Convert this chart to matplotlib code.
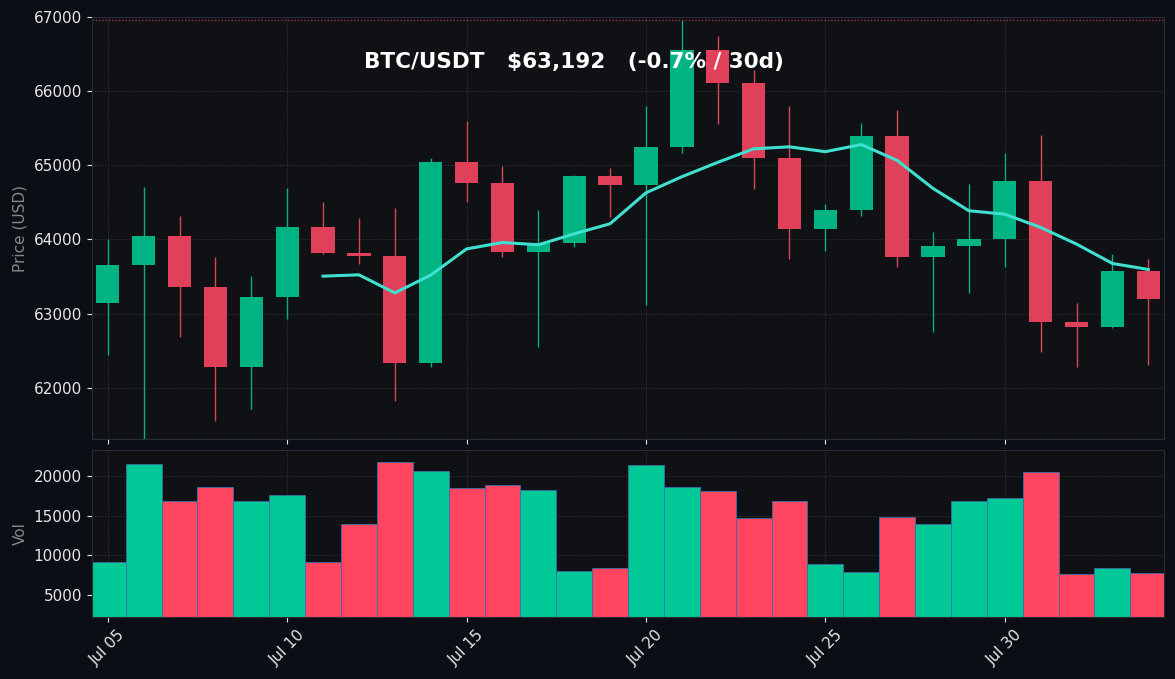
import numpy as np
import pandas as pd
import matplotlib
matplotlib.use("Agg")
import matplotlib.pyplot as plt
import matplotlib.dates as mdates

# ---------- Data ----------
dates = pd.date_range("2024-07-05", periods=30, freq="D")
opens = [63142, 63653, 64043, 63357, 62282, 63223, 64164, 63815, 63775, 62336,
         65038, 64755, 63828, 63949, 64850, 64729, 65253, 66556, 66113, 65105,
         64137, 64392, 65400, 63761, 63909, 64003, 64782, 62887, 62820, 63573]
closes = [63653, 64043, 63357, 62282, 63223, 64164, 63815, 63775, 62336, 65038,
          64755, 63828, 63949, 64850, 64729, 65253, 66556, 66113, 65105, 64137,
          64392, 65400, 63761, 63909, 64003, 64782, 62887, 62820, 63573, 63192]
highs = [64003, 64702, 64312, 63761, 63505, 64688, 64500, 64285, 64420, 65105,
         65602, 64997, 64392, 64870, 64970, 65804, 66960, 66745, 66288, 65804,
         64473, 65575, 65750, 64097, 64742, 65172, 65414, 63142, 63801, 63734]
lows = [62443, 61315, 62685, 61557, 61718, 62927, 63800, 63667, 61825, 62282,
        64500, 63761, 62551, 63895, 64298, 63116, 65159, 65562, 64675, 63734,
        63841, 64312, 63626, 62753, 63277, 63626, 62484, 62282, 62800, 62309]
volumes = [9160, 21520, 16850, 18620, 16850, 17610, 9160, 13950, 21770, 20640,
           18490, 18870, 18240, 8030, 8400, 21390, 18620, 18110, 14710, 16850,
           8910, 7900, 14840, 13950, 16850, 17230, 20510, 7650, 8400, 7770]

df = pd.DataFrame({"open": opens, "close": closes, "high": highs,
                   "low": lows, "vol": volumes}, index=dates)
df["ma7"] = df["close"].rolling(7).mean()

# ---------- Style ----------
BG = "#0b0e14"
AX_BG = "#101114"
GREEN = "#00b383"
RED = "#e0405a"
VGREEN = "#00c896"
VRED = "#ff4560"
TXT = "#e6e6e6"

fig, (ax, axv) = plt.subplots(2, 1, figsize=(11.75, 6.79), dpi=100, sharex=True,
                              gridspec_kw={"height_ratios": [2.52, 1], "hspace": 0.035})
fig.patch.set_facecolor(BG)
fig.subplots_adjust(left=0.078, right=0.991, top=0.975, bottom=0.091)

x = mdates.date2num(df.index.to_pydatetime())
up = df["close"] >= df["open"]

for a in (ax, axv):
    a.set_facecolor(AX_BG)
    a.set_axisbelow(True)
    a.grid(True, linestyle=":", linewidth=0.7, color="#3a3d45", alpha=0.9)
    a.tick_params(colors=TXT, labelsize=11)
    for s in a.spines.values():
        s.set_color("#2a2d35")

# candles
for xi, (_, r), u in zip(x, df.iterrows(), up):
    c = GREEN if u else RED
    ax.vlines(xi, r["low"], r["high"], color=c, linewidth=1)
    lo, hi = sorted([r["open"], r["close"]])
    ax.bar(xi, max(hi - lo, 25), bottom=lo, width=0.65, color=c, linewidth=0)

ax.plot(x, df["ma7"], color="#40e0d0", linewidth=2.2)
ax.axhline(df["high"].max(), color=RED, linestyle=":", linewidth=0.9, alpha=0.8)
ax.axhline(df["low"].min(), color=GREEN, linestyle=":", linewidth=0.9, alpha=0.8)
ax.set_ylim(df["low"].min() - 10, 67000)
ax.set_ylabel("Price (USD)", color="#888888", fontsize=11)

chg = (df["close"].iloc[-1] / df["close"].iloc[0] - 1) * 100
ax.text(0.45, 0.894, f"BTC/USDT   ${df['close'].iloc[-1]:,.0f}   ({chg:+.1f}% / 30d)",
        transform=ax.transAxes, ha="center", va="center", color="white",
        fontsize=15.5, fontweight="bold")

# volume
axv.bar(x, df["vol"], width=1.0, color=[VGREEN if u else VRED for u in up],
        edgecolor="#3a6ea5", linewidth=0.6)
axv.set_ylim(2200, 23300)
axv.set_yticks([5000, 10000, 15000, 20000])
axv.set_ylabel("Vol", color="#888888", fontsize=11)

axv.set_xlim(x[0] - 0.45, x[-1] + 0.45)
axv.xaxis.set_major_locator(mdates.DayLocator(bymonthday=[5, 10, 15, 20, 25, 30]))
axv.xaxis.set_major_formatter(mdates.DateFormatter("%b %d"))
plt.setp(axv.get_xticklabels(), rotation=45, ha="center")

fig.savefig("out.png", facecolor=BG)
